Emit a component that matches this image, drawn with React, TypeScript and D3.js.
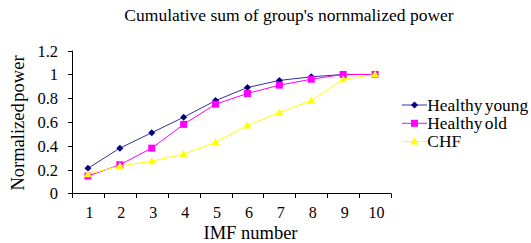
import React from "react";
import * as d3 from "d3";

const categories = ["1", "2", "3", "4", "5", "6", "7", "8", "9", "10"];
const healthyYoung = [0.21, 0.38, 0.51, 0.64, 0.78, 0.89, 0.95, 0.98, 1.0, 1.0];
const healthyOld = [0.145, 0.24, 0.38, 0.58, 0.75, 0.84, 0.91, 0.96, 1.0, 1.0];
const chf = [0.16, 0.23, 0.27, 0.33, 0.43, 0.57, 0.68, 0.78, 0.96, 1.0];
const yTicks = [0, 0.2, 0.4, 0.6, 0.8, 1, 1.2];
const seriesNames = ["Healthy young", "Healthy old", "CHF"];

const W = 531, H = 243;
const font = "'Liberation Serif', 'Times New Roman', serif";

export default function App() {
  const x = d3.scaleBand<string>().domain(categories).range([72, 391]);
  const y = d3.scaleLinear().domain([0, 1.2]).range([193.3, 50.7]);
  const line = d3
    .line<number>()
    .x((_, i) => (x(categories[i]) as number) + x.bandwidth() / 2)
    .y((d) => y(d));

  const series = [
    { name: seriesNames[0], data: healthyYoung, color: "#000080", line: "#33339a", marker: "diamond" },
    { name: seriesNames[1], data: healthyOld, color: "#FF00FF", line: "#FF00FF", marker: "square" },
    { name: seriesNames[2], data: chf, color: "#FFFF00", line: "#FFFF00", marker: "triangle" },
  ];

  const marker = (type: string, cx: number, cy: number, color: string, key: any) => {
    if (type === "diamond") {
      const s = 3.5;
      return (
        <path key={key} d={`M${cx},${cy - s}L${cx + s},${cy}L${cx},${cy + s}L${cx - s},${cy}Z`} fill={color} />
      );
    }
    if (type === "square") {
      const s = 3.5;
      return <rect key={key} x={cx - s} y={cy - s} width={2 * s} height={2 * s} fill={color} />;
    }
    const s = 4;
    return (
      <path key={key} d={`M${cx},${cy - s}L${cx + s},${cy + s * 0.75}L${cx - s},${cy + s * 0.75}Z`} fill={color} />
    );
  };

  const boundaries = categories.map((c) => x(c) as number).concat([391]);

  return (
    <svg width={W} height={H} style={{ position: "absolute", left: 0, top: 0, background: "#fff" }}>
      <text x={289} y={20.7} textAnchor="middle" fontFamily={font} fontSize={17.5} fill="#000">
        Cumulative sum of group's nornmalized power
      </text>
      {/* y axis */}
      <line x1={72.5} x2={72.5} y1={50.7} y2={193.3} stroke="#000" />
      {yTicks.map((t) => (
        <g key={t}>
          <line x1={68} x2={72.5} y1={Math.round(y(t)) + 0.5} y2={Math.round(y(t)) + 0.5} stroke="#000" />
          <text x={58} y={y(t) + 6} textAnchor="end" fontFamily={font} fontSize={16.5} fill="#000">
            {String(t)}
          </text>
        </g>
      ))}
      {/* x axis */}
      <line x1={72} x2={391} y1={193.5} y2={193.5} stroke="#000" />
      {boundaries.map((b, i) => (
        <line key={i} x1={Math.round(b) + 0.5} x2={Math.round(b) + 0.5} y1={193.5} y2={198} stroke="#000" />
      ))}
      {categories.map((c) => (
        <text
          key={c}
          x={(x(c) as number) + x.bandwidth() / 2 + 1.5}
          y={218.3}
          textAnchor="middle"
          fontFamily={font}
          fontSize={16}
          fill="#000"
        >
          {c}
        </text>
      ))}
      <text x={250.5} y={239} textAnchor="middle" fontFamily={font} fontSize={18.5} fill="#000">
        IMF number
      </text>
      <text
        transform={`translate(24,123) rotate(-90)`}
        textAnchor="middle"
        fontFamily={font}
        fontSize={18.5}
        fill="#000"
        wordSpacing={-3}
      >
        Normalized power
      </text>
      {/* series */}
      {series.map((s) => (
        <g key={s.name}>
          <path d={line(s.data) as string} fill="none" stroke={s.line} strokeWidth={1} />
          {s.data.map((v, i) =>
            marker(s.marker, (x(categories[i]) as number) + x.bandwidth() / 2, y(v), s.color, i)
          )}
        </g>
      ))}
      {/* legend */}
      {series.map((s, i) => {
        const ly = 105 + i * 18.3;
        return (
          <g key={s.name}>
            <line x1={402} x2={427} y1={ly} y2={ly} stroke={s.line} />
            {marker(s.marker, 414.5, ly, s.color, "m")}
            <text x={427.3} y={ly + 5.7} fontFamily={font} fontSize={17.4} fill="#000" wordSpacing={-2}>
              {s.name}
            </text>
          </g>
        );
      })}
    </svg>
  );
}
